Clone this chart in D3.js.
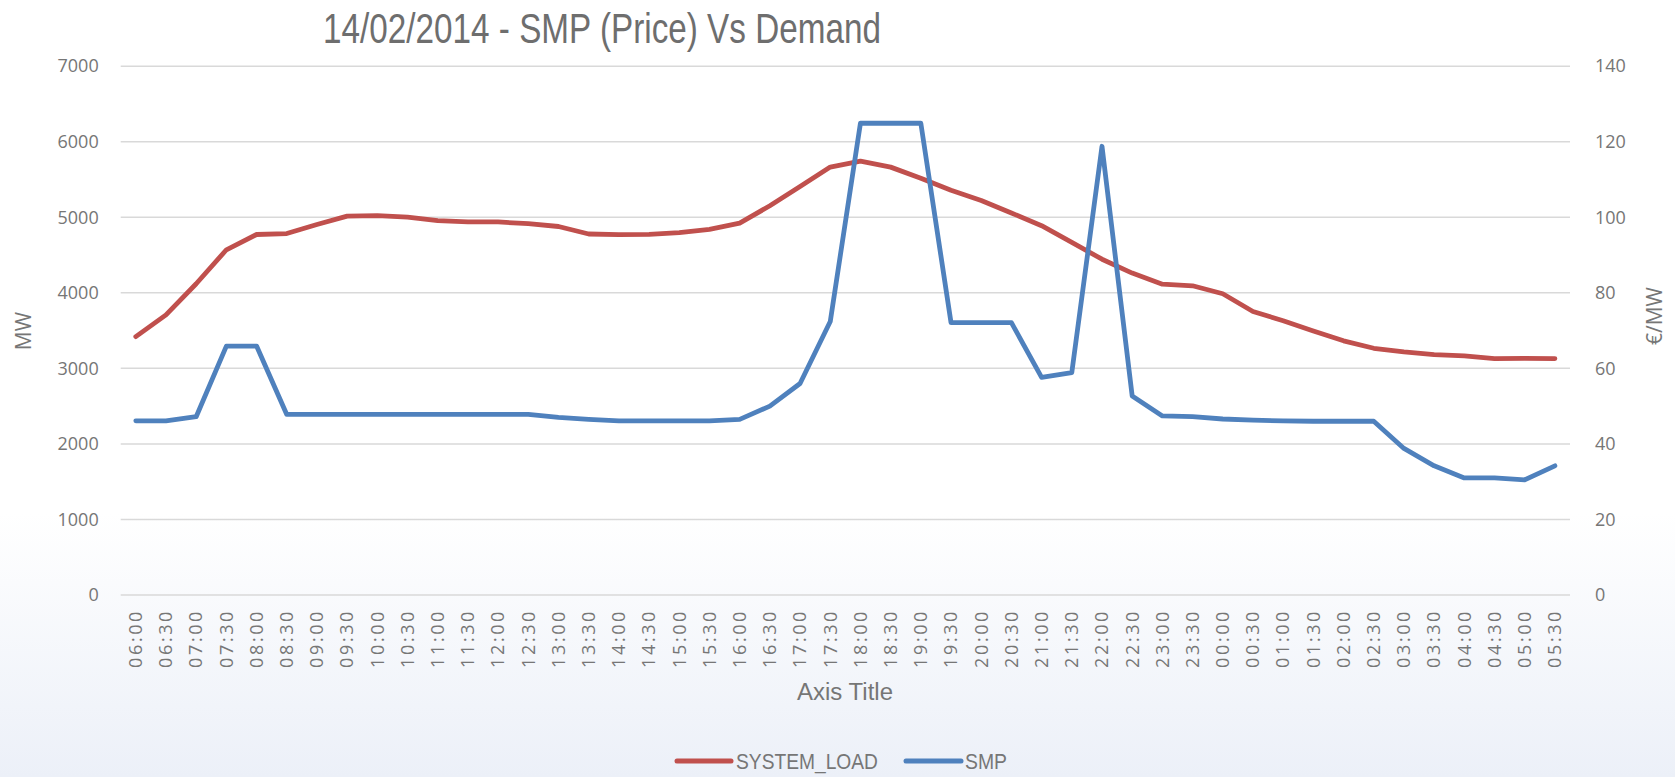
<!DOCTYPE html>
<html>
<head>
<meta charset="utf-8">
<script src="https://cdn.jsdelivr.net/npm/d3@7"></script>
<style>
  html, body { margin: 0; padding: 0; background: #fff; }
  svg { display: block; }
</style>
</head>
<body>
<svg id="chart" width="1675" height="777"></svg>
<script>
const times = ["06:00","06:30","07:00","07:30","08:00","08:30","09:00","09:30","10:00","10:30","11:00","11:30",
  "12:00","12:30","13:00","13:30","14:00","14:30","15:00","15:30","16:00","16:30","17:00","17:30",
  "18:00","18:30","19:00","19:30","20:00","20:30","21:00","21:30","22:00","22:30","23:00","23:30",
  "00:00","00:30","01:00","01:30","02:00","02:30","03:00","03:30","04:00","04:30","05:00","05:30"];

const systemLoad = [3420,3708,4120,4570,4772,4785,4905,5015,5023,5003,4955,4938,
  4938,4915,4878,4779,4770,4774,4797,4840,4922,5153,5408,5665,
  5744,5664,5518,5358,5222,5057,4889,4668,4445,4261,4115,4093,
  3988,3753,3630,3494,3365,3266,3218,3183,3165,3130,3133,3130];

const smp = [46.1,46.1,47.2,65.9,65.9,47.8,47.8,47.8,47.8,47.8,47.8,47.8,
  47.8,47.8,47.0,46.5,46.1,46.1,46.1,46.1,46.5,50.0,56.0,72.4,
  124.9,124.9,124.9,72.1,72.1,72.1,57.6,58.9,118.8,52.7,47.4,47.2,
  46.6,46.3,46.1,46.0,46.0,46.0,38.8,34.2,31.0,31.0,30.5,34.2];

const leftTicks = [0,1000,2000,3000,4000,5000,6000,7000];
const rightTicks = [0,20,40,60,80,100,120,140];
const seriesNames = ["SYSTEM_LOAD","SMP"];
const seriesColors = ["#c0504d","#4f81bd"];

(function draw() {
const svg = d3.select("#chart");
const W = 1675, H = 777;

const defs = svg.append("defs");
const grad = defs.append("linearGradient").attr("id","bg").attr("x1",0).attr("y1",0).attr("x2",0).attr("y2",1);
grad.append("stop").attr("offset","0%").attr("stop-color","#ffffff");
grad.append("stop").attr("offset","66%").attr("stop-color","#ffffff");
grad.append("stop").attr("offset","100%").attr("stop-color","#ecf0f8");
svg.append("rect").attr("width",W).attr("height",H).attr("fill","url(#bg)");

const pLeft = 120.7, pRight = 1570, pTop = 66.2, pBottom = 595;
const x = d3.scaleBand().domain(times).range([pLeft, pRight]).padding(0);
const yL = d3.scaleLinear().domain([0,7000]).range([pBottom, pTop]);
const yR = d3.scaleLinear().domain([0,140]).range([pBottom, pTop]);

const txt = "#767676";
const font = "'Open Sans', 'DejaVu Sans', sans-serif";
const narrow = "'Liberation Sans Narrow','Liberation Sans', sans-serif";

svg.append("g").selectAll("line").data(leftTicks).join("line")
  .attr("x1", pLeft).attr("x2", pRight)
  .attr("y1", d => yL(d)).attr("y2", d => yL(d))
  .attr("stroke", "#d9d9d9").attr("stroke-width", 1.5);

const gL = svg.append("g").attr("transform", `translate(${pLeft},0)`)
  .call(d3.axisLeft(yL).tickValues(leftTicks).tickSize(0).tickPadding(22).tickFormat(d3.format("d")));
gL.select(".domain").remove();
gL.selectAll("text").attr("fill", txt).style("font-family", font).style("font-size","18px");

const gR = svg.append("g").attr("transform", `translate(${pRight},0)`)
  .call(d3.axisRight(yR).tickValues(rightTicks).tickSize(0).tickPadding(25).tickFormat(d3.format("d")));
gR.select(".domain").remove();
gR.selectAll("text").attr("fill", txt).style("font-family", font).style("font-size","18px");

const gB = svg.append("g").attr("transform", `translate(0,${pBottom})`)
  .call(d3.axisBottom(x).tickSize(0));
gB.select(".domain").remove();
gB.selectAll("text")
  .attr("fill", txt).style("font-family", font).style("font-size","18px")
  .style("letter-spacing","2.6px")
  .attr("transform","rotate(-90)")
  .attr("text-anchor","end")
  .attr("x", -14).attr("y", 0).attr("dy","0.35em");

const lineL = d3.line().x((d,i) => x(times[i]) + x.bandwidth()/2).y(d => yL(d));
const lineR = d3.line().x((d,i) => x(times[i]) + x.bandwidth()/2).y(d => yR(d));

svg.append("path").datum(systemLoad).attr("d", lineL)
  .attr("fill","none").attr("stroke", seriesColors[0]).attr("stroke-width", 4.8)
  .attr("stroke-linejoin","round").attr("stroke-linecap","round");
svg.append("path").datum(smp).attr("d", lineR)
  .attr("fill","none").attr("stroke", seriesColors[1]).attr("stroke-width", 4.8)
  .attr("stroke-linejoin","round").attr("stroke-linecap","round");

svg.append("text").attr("x", 602).attr("y", 43).attr("text-anchor","middle")
  .attr("fill","#6e6e6e").style("font-family", narrow)
  .style("font-size","43px")
  .attr("textLength", 558).attr("lengthAdjust","spacingAndGlyphs")
  .text("14/02/2014 - SMP (Price) Vs Demand");

svg.append("text").attr("transform","translate(31,331) rotate(-90)").attr("text-anchor","middle")
  .attr("fill", txt).style("font-family", font).style("font-size","21px").text("MW");
svg.append("text").attr("transform","translate(1662,316) rotate(-90)").attr("text-anchor","middle")
  .attr("fill", txt).style("font-family", font).style("font-size","21px").text("€/MW");
svg.append("text").attr("x", 845).attr("y", 700).attr("text-anchor","middle")
  .attr("fill", txt).style("font-family", narrow)
  .style("font-size","23px").attr("textLength", 96).attr("lengthAdjust","spacingAndGlyphs")
  .text("Axis Title");

const legendItems = [
  {name: seriesNames[0], color: seriesColors[0], x1: 677, x2: 731, tx: 736, tw: 142},
  {name: seriesNames[1], color: seriesColors[1], x1: 906, x2: 961, tx: 965, tw: 42}
];
const lg = svg.append("g");
legendItems.forEach(it => {
  lg.append("line").attr("x1", it.x1).attr("x2", it.x2).attr("y1", 761).attr("y2", 761)
    .attr("stroke", it.color).attr("stroke-width", 5).attr("stroke-linecap","round");
  lg.append("text").attr("x", it.tx).attr("y", 769).attr("fill", txt)
    .style("font-family", narrow).style("font-size","22px")
    .attr("textLength", it.tw).attr("lengthAdjust","spacingAndGlyphs")
    .text(it.name);
});
})();
</script>
</body>
</html>
